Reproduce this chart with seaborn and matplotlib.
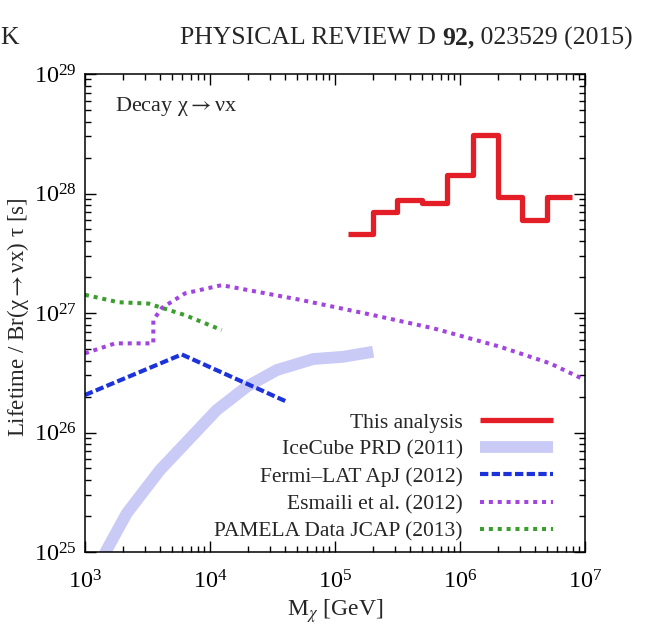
import numpy as np
import pandas as pd
import matplotlib
matplotlib.use("Agg")
import matplotlib.pyplot as plt
import seaborn as sns
from matplotlib.ticker import LogLocator, LogFormatterMathtext, NullFormatter

# This analysis: 0.2-dex bins in mass, lifetime limit per bin
this_edges = [1.26e5, 2.0e5, 3.16e5, 5.0e5, 7.9e5, 1.26e6, 2.0e6, 3.16e6, 5.0e6, 7.9e6]
this_tau = [4.6e27, 7.0e27, 8.8e27, 8.4e27, 1.43e28, 3.1e28, 9.3e27, 6.0e27, 9.3e27]

icecube_m = [1.32e3, 1.49e3, 2.16e3, 3.98e3, 1.13e4, 1.97e4, 3.42e4, 6.7e4, 1.16e5, 2.02e5]
icecube_tau = [8.0e24, 1.04e25, 2.11e25, 4.85e25, 1.54e26, 2.42e26, 3.33e26, 4.12e26, 4.3e26, 4.74e26]

fermi_m = [1.0e3, 5.94e3, 4.11e4]
fermi_tau = [2.06e26, 4.5e26, 1.81e26]

esmaili_m = [1.0e3, 1.74e3, 3.52e3, 3.52e3, 4.11e3, 6.31e3, 1.24e4, 5.25e4, 2.02e5,
             6.11e5, 2.09e6, 5.25e6, 1.0e7]
esmaili_tau = [4.6e26, 5.57e26, 5.57e26, 8.73e26, 1.1e27, 1.46e27, 1.71e27, 1.29e27,
               9.6e26, 7.45e26, 5.22e26, 3.79e26, 2.75e26]

pamela_m = [1.0e3, 1.85e3, 3.21e3, 6.31e3, 1.24e4]
pamela_tau = [1.42e27, 1.23e27, 1.2e27, 9.6e26, 7.2e26]

labels = ["This analysis", "IceCube PRD (2011)", "Fermi\u2013LAT ApJ (2012)",
          "Esmaili et al. (2012)", "PAMELA Data JCAP (2013)"]

sns.set_style("ticks")
plt.rcParams["font.family"] = ["Liberation Serif", "DejaVu Serif"]
plt.rcParams["mathtext.fontset"] = "stix"

fig = plt.figure(figsize=(6.48, 6.24), dpi=100)
ax = fig.add_axes([85 / 648, 1 - 552 / 624, 500 / 648, 478 / 624])

red = "#e41e26"
lav = "#c9cbf6"
blue = "#1c33dc"
purple = "#a245e0"
green = "#3a9e2c"

step_df = pd.DataFrame({"m": this_edges, "tau": this_tau + [this_tau[-1]]})
sns.lineplot(data=step_df, x="m", y="tau", ax=ax, color=red, lw=3.8, estimator=None,
             drawstyle="steps-post", label=labels[0], solid_capstyle="butt")

ice_df = pd.DataFrame({"m": icecube_m, "tau": icecube_tau})
sns.lineplot(data=ice_df, x="m", y="tau", ax=ax, color=lav, lw=8.5, estimator=None,
             label=labels[1], solid_capstyle="butt", zorder=1)

fermi_df = pd.DataFrame({"m": fermi_m, "tau": fermi_tau})
sns.lineplot(data=fermi_df, x="m", y="tau", ax=ax, color=blue, lw=3.0, estimator=None,
             label=labels[2])
ax.lines[-1].set_dashes([2.0, 0.8])

esm_df = pd.DataFrame({"m": esmaili_m, "tau": esmaili_tau})
sns.lineplot(data=esm_df, x="m", y="tau", ax=ax, color=purple, lw=2.9, estimator=None,
             label=labels[3], sort=False)
ax.lines[-1].set_dashes([1, 1.2])

pam_df = pd.DataFrame({"m": pamela_m, "tau": pamela_tau})
sns.lineplot(data=pam_df, x="m", y="tau", ax=ax, color=green, lw=2.9, estimator=None,
             label=labels[4])
ax.lines[-1].set_dashes([1, 1.2])

ax.set_xscale("log")
ax.set_yscale("log")
ax.set_xlim(1e3, 1e7)
ax.set_ylim(1e25, 1e29)

for axis in (ax.xaxis, ax.yaxis):
    axis.set_major_locator(LogLocator(base=10, numticks=10))
    axis.set_minor_locator(LogLocator(base=10, subs=np.arange(2, 10), numticks=20))
    axis.set_major_formatter(LogFormatterMathtext())
    axis.set_minor_formatter(NullFormatter())

ax.tick_params(which="both", direction="in", top=True, right=True, colors="black",
               labelsize=17.5)
ax.tick_params(which="major", length=8, width=1)
ax.tick_params(which="minor", length=4, width=1)
ax.tick_params(axis="x", which="major", pad=13)
ax.tick_params(axis="y", which="major", pad=6)
for sp in ax.spines.values():
    sp.set_color("black")
    sp.set_linewidth(1.1)

ax.set_xlabel(r"M$_\chi$ [GeV]", fontsize=17, labelpad=3)
ax.set_ylabel("Lifetime / Br(\u03c7$\\rightarrow$\u03bdx) \u03c4 [s]", fontsize=16.5)
ax.yaxis.label.set_va("center")
ax.yaxis.set_label_coords(-0.134, 0.49)

ax.text(30 / 500, 1 - 32 / 478, "Decay \u03c7$\\rightarrow$\u03bdx", transform=ax.transAxes,
        fontsize=16, ha="left", va="center")

leg = ax.legend(loc="lower right", bbox_to_anchor=(0.975, -0.018), frameon=False,
                markerfirst=False, fontsize=15.5, handlelength=3.4,
                handletextpad=0.8, labelspacing=0.33)

# journal header: plain / bold / plain pieces placed side by side
hy = 1 - 38 / 624
fig.canvas.draw()
rend = fig.canvas.get_renderer()
t3 = fig.text(633 / 648, hy, " 023529 (2015)", ha="right", va="center", fontsize=18.5)
x3 = t3.get_window_extent(rend).x0 / fig.bbox.width
t2 = fig.text(x3, hy, "92,", ha="right", va="center", fontsize=18.5, fontweight="bold")
x2 = t2.get_window_extent(rend).x0 / fig.bbox.width
fig.text(x2, hy, "PHYSICAL REVIEW D ", ha="right", va="center", fontsize=18.5)
fig.text(0.0, hy, "K", ha="left", va="center", fontsize=18.5)

fig.savefig("out.png", dpi=100)
